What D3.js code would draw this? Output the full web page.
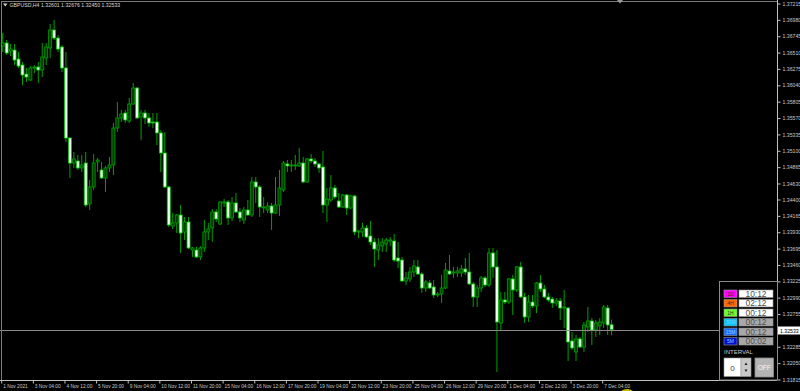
<!DOCTYPE html>
<html lang="en">
<head>
<meta charset="UTF-8">
<title>GBPUSD,H4</title>
<script src="https://d3js.org/d3.v7.min.js"></script>
<style>
  body { margin: 0; background: #000; overflow: hidden; }
  svg { display: block; }
  text { font-family: "Liberation Sans", Arial, sans-serif; }
</style>
</head>
<body>
<div id="chart"></div>
<script>
// H4 bars, 1 Nov 2021 20:00 -> 7 Dec 2021 12:00
var opens = [1.36604,1.36648,1.36533,1.36547,1.36418,1.36332,1.36202,1.36116,1.36289,1.36303,
  1.36260,1.36432,1.36576,1.36834,1.36719,1.36590,1.36289,1.35283,1.34924,1.34953,
  1.34853,1.34924,1.34336,1.34580,1.34939,1.34824,1.34709,1.34853,1.34896,1.35427,
  1.35571,1.35642,1.35528,1.35772,1.36001,1.35585,1.35642,1.35571,1.35513,1.35513,
  1.35356,1.35068,1.34580,1.34020,1.34063,1.34178,1.33934,1.34077,1.33675,1.33675,
  1.33575,1.33704,1.33934,1.33991,1.34221,1.34048,1.34350,1.34364,1.34135,1.34350,
  1.34221,1.34106,1.34249,1.34178,1.34652,1.34580,1.34278,1.34249,1.34307,1.34206,
  1.34321,1.34537,1.34910,1.34882,1.34882,1.34882,1.34924,1.34652,1.34982,1.34953,
  1.34910,1.34867,1.34321,1.34393,1.34565,1.34379,1.34293,1.34465,1.34278,1.34450,
  1.33934,1.33934,1.33991,1.33876,1.33790,1.33675,1.33732,1.33761,1.33804,1.33804,
  1.33560,1.33531,1.33230,1.33259,1.33359,1.33431,1.33330,1.33129,1.33201,1.33144,
  1.33029,1.33043,1.33129,1.33373,1.33345,1.33345,1.33345,1.33402,1.33359,1.33187,
  1.33000,1.33129,1.33273,1.33172,1.33632,1.33431,1.32627,1.32957,1.32928,1.33259,
  1.33101,1.33431,1.33000,1.32713,1.32928,1.32871,1.33201,1.33115,1.33000,1.32971,
  1.32914,1.32943,1.32842,1.32842,1.32368,1.32210,1.32397,1.32282,1.32569,1.32655,
  1.32526,1.32584,1.32627,1.32842,1.32601];
var highs = [1.36791,1.36691,1.36633,1.36633,1.36518,1.36375,1.36289,1.36317,1.36332,1.36375,
  1.36648,1.36648,1.36920,1.36978,1.36762,1.36619,1.36518,1.35297,1.35082,1.35039,
  1.35039,1.35082,1.34680,1.35054,1.34996,1.34939,1.34882,1.35011,1.35499,1.35801,
  1.35686,1.35686,1.35858,1.36073,1.36016,1.35686,1.35686,1.35642,1.35642,1.35642,
  1.35398,1.35370,1.34594,1.34206,1.34192,1.34321,1.34149,1.34149,1.33718,1.33718,
  1.33732,1.34106,1.34063,1.34264,1.34264,1.34379,1.34407,1.34393,1.34436,1.34494,
  1.34278,1.34293,1.34393,1.34723,1.34723,1.34608,1.34436,1.34364,1.34350,1.34723,
  1.34824,1.34953,1.34967,1.34967,1.35039,1.35140,1.35011,1.34996,1.35054,1.34996,
  1.34924,1.35097,1.34565,1.34752,1.34608,1.34494,1.34479,1.34479,1.34465,1.34465,
  1.33962,1.34063,1.34034,1.34091,1.33847,1.33847,1.33847,1.33847,1.33862,1.33905,
  1.33790,1.33575,1.33359,1.33431,1.33531,1.33531,1.33359,1.33244,1.33244,1.33244,
  1.33072,1.33316,1.33488,1.33603,1.33431,1.33431,1.33460,1.33560,1.33632,1.33216,
  1.33172,1.33302,1.33302,1.33704,1.33704,1.33675,1.33072,1.33072,1.33273,1.33316,
  1.33446,1.33503,1.33058,1.33029,1.33029,1.33216,1.33316,1.33172,1.33058,1.33000,
  1.32986,1.32986,1.33101,1.32857,1.32498,1.32454,1.32426,1.32641,1.32857,1.32698,
  1.32670,1.32698,1.32885,1.32885,1.32676];
var lows = [1.36518,1.36475,1.36461,1.36332,1.36289,1.36044,1.36088,1.36102,1.36217,1.36073,
  1.36159,1.36332,1.36432,1.36691,1.36518,1.36231,1.35226,1.34709,1.34853,1.34824,
  1.34795,1.34293,1.34249,1.34537,1.34795,1.34695,1.34508,1.34795,1.34752,1.35370,
  1.35513,1.35499,1.35499,1.35757,1.35556,1.35255,1.35484,1.35441,1.35427,1.35183,
  1.34795,1.34565,1.34005,1.33977,1.33919,1.33632,1.33819,1.33689,1.33575,1.33560,
  1.33531,1.33646,1.33819,1.33790,1.34077,1.34034,1.34293,1.34034,1.34091,1.34206,
  1.34077,1.34048,1.34163,1.34149,1.34350,1.34149,1.34206,1.34206,1.33962,1.34192,
  1.34163,1.34508,1.34795,1.34795,1.34824,1.34867,1.34637,1.34637,1.34924,1.34867,
  1.34782,1.34206,1.34077,1.34364,1.34407,1.34278,1.34278,1.34178,1.34264,1.33890,
  1.33847,1.33862,1.33847,1.33747,1.33431,1.33531,1.33646,1.33646,1.33732,1.33503,
  1.33416,1.33216,1.33172,1.33216,1.33287,1.33316,1.33058,1.33072,1.33115,1.32986,
  1.33000,1.32914,1.33115,1.33316,1.33273,1.33287,1.33287,1.33316,1.33172,1.32857,
  1.32857,1.33072,1.33144,1.33144,1.33273,1.31923,1.32526,1.32900,1.32900,1.32742,
  1.33072,1.32986,1.32627,1.32641,1.32842,1.32770,1.33072,1.32986,1.32928,1.32842,
  1.32871,1.32670,1.32555,1.32081,1.32239,1.32081,1.32268,1.32210,1.32498,1.32311,
  1.32426,1.32454,1.32555,1.32454,1.32450];
var closes = [1.36648,1.36504,1.36561,1.36403,1.36317,1.36188,1.36159,1.36289,1.36303,1.36260,
  1.36447,1.36590,1.36834,1.36719,1.36561,1.36289,1.35283,1.34924,1.34982,1.34853,
  1.34896,1.34321,1.34580,1.34924,1.34967,1.34709,1.34853,1.34896,1.35427,1.35571,
  1.35628,1.35542,1.35772,1.36001,1.35571,1.35642,1.35571,1.35499,1.35499,1.35356,
  1.35068,1.34580,1.34034,1.34063,1.34178,1.33919,1.34077,1.33704,1.33704,1.33575,
  1.33704,1.33934,1.33977,1.34221,1.34120,1.34364,1.34364,1.34135,1.34350,1.34221,
  1.34135,1.34249,1.34178,1.34652,1.34580,1.34293,1.34293,1.34307,1.34206,1.34321,
  1.34565,1.34924,1.34882,1.34896,1.34896,1.34924,1.34652,1.34982,1.34953,1.34910,
  1.34853,1.34321,1.34407,1.34565,1.34436,1.34293,1.34465,1.34278,1.34450,1.33934,
  1.33948,1.33991,1.33862,1.33790,1.33689,1.33747,1.33790,1.33819,1.33819,1.33531,
  1.33517,1.33230,1.33273,1.33359,1.33446,1.33330,1.33129,1.33216,1.33129,1.33029,
  1.33043,1.33129,1.33388,1.33330,1.33359,1.33373,1.33402,1.33359,1.33187,1.33000,
  1.33129,1.33273,1.33172,1.33632,1.33431,1.32641,1.32957,1.32928,1.33259,1.33101,
  1.33431,1.33000,1.32713,1.32928,1.32871,1.33201,1.33115,1.33000,1.32957,1.32914,
  1.32943,1.32842,1.32857,1.32354,1.32268,1.32397,1.32282,1.32598,1.32655,1.32526,
  1.32627,1.32641,1.32857,1.32598,1.32533];

var priceTicks = [1.37215,1.36980,1.36745,1.36510,1.36275,1.36040,1.35805,1.35570,1.35335,1.35100,
  1.34865,1.34630,1.34400,1.34165,1.33930,1.33695,1.33460,1.33225,1.32990,1.32755,
  1.32285,1.32050,1.31815];
var timeLabels = ["1 Nov 2021","3 Nov 04:00","4 Nov 12:00","5 Nov 20:00","9 Nov 04:00",
  "10 Nov 12:00","11 Nov 20:00","15 Nov 04:00","16 Nov 12:00","17 Nov 20:00",
  "19 Nov 04:00","22 Nov 12:00","23 Nov 20:00","25 Nov 04:00","26 Nov 12:00",
  "29 Nov 20:00","1 Dec 04:00","2 Dec 12:00","3 Dec 20:00","7 Dec 04:00"];

// timer panel
var tfNames = ["1D","4H","1H","30M","15M","5M"];
var tfLeft = ["10:12","02:12","00:12","00:12","00:12","00:02"];
var tfColors = ["#ff00ff","#ff6a00","#6cff2a","#00c8ff","#1a6cff","#0010d0"];

var width = 800, height = 391;
var plotRight = 777, plotBottom = 380;

// bar times (H4, weekdays only)
var times = [];
var t = new Date(2021, 10, 1, 20);
while (times.length < opens.length) {
  if (t.getDay() != 0 && t.getDay() != 6) times.push(new Date(t));
  t = new Date(t.getTime() + 4 * 3600 * 1000);
}
var bars = times.map(function(d, i) {
  return { time: d, o: opens[i], h: highs[i], l: lows[i], c: closes[i] };
});

var step = 3.954;
var x = d3.scaleBand()
  .domain(times)
  .range([0.72, 0.72 + step * times.length]);

var y = d3.scaleLinear()
  .domain([1.31815, 1.37215])
  .range([379.5, 3.5]);

var svg = d3.select("#chart")
  .append("svg")
  .attr("width", width)
  .attr("height", height);

svg.append("rect").attr("width", width).attr("height", height).attr("fill", "#000");

// candles
var candles = svg.append("g");
var cx = function(d) { return x(d.time) + x.bandwidth() / 2; };

candles.selectAll("line.wick")
  .data(bars)
  .enter()
  .append("line")
  .attr("class", "wick")
  .attr("x1", cx).attr("x2", cx)
  .attr("y1", function(d) { return y(d.h); })
  .attr("y2", function(d) { return y(d.l); })
  .attr("stroke", "#00a000")
  .attr("stroke-width", 1);

candles.selectAll("rect.body")
  .data(bars)
  .enter()
  .append("rect")
  .attr("class", "body")
  .attr("x", function(d) { return cx(d) - 1.5; })
  .attr("width", 3)
  .attr("y", function(d) { return y(Math.max(d.o, d.c)); })
  .attr("height", function(d) { return Math.max(0.8, Math.abs(y(d.o) - y(d.c))); })
  .attr("fill", function(d) { return d.c > d.o ? "#003a00" : "#effff0"; })
  .attr("stroke", function(d) { return d.c > d.o ? "#00a000" : "#00c800"; })
  .attr("stroke-width", 0.8);

// current price line
var last = bars[bars.length - 1];
var lastY = Math.round(y(last.c)) + 0.5;
svg.append("line")
  .attr("x1", 0).attr("x2", plotRight)
  .attr("y1", lastY).attr("y2", lastY)
  .attr("stroke", "#8a8a8a")
  .attr("stroke-width", 1);

// frame
svg.append("line").attr("x1", 1.5).attr("x2", 1.5).attr("y1", 1).attr("y2", plotBottom)
  .attr("stroke", "#7a7a7a");
svg.append("line").attr("x1", 1).attr("x2", plotRight).attr("y1", 1.5).attr("y2", 1.5)
  .attr("stroke", "#7a7a7a");
svg.append("line").attr("x1", plotRight + 0.5).attr("x2", plotRight + 0.5).attr("y1", 0).attr("y2", plotBottom)
  .attr("stroke", "#c0c0c0");
svg.append("line").attr("x1", 0).attr("x2", plotRight).attr("y1", plotBottom + 0.5).attr("y2", plotBottom + 0.5)
  .attr("stroke", "#c0c0c0");

// price axis
var yAxis = svg.append("g")
  .attr("transform", "translate(" + (plotRight + 0.5) + ",0)")
  .call(d3.axisRight(y).tickValues(priceTicks).tickSize(3).tickPadding(2)
    .tickFormat(d3.format(".5f")));
yAxis.select(".domain").remove();
yAxis.selectAll("line").attr("stroke", "#c0c0c0");
yAxis.selectAll("text")
  .attr("fill", "#c8c8c8")
  .attr("font-size", 5.2)
  .attr("font-family", "Liberation Sans, Arial, sans-serif");

// time axis
var xAxis = svg.append("g")
  .attr("transform", "translate(0," + (plotBottom + 0.5) + ")")
  .call(d3.axisBottom(x)
    .tickValues(times.filter(function(d, i) { return i % 8 == 0; }))
    .tickSize(3)
    .tickFormat(function(d, i) { return timeLabels[i]; }));
xAxis.select(".domain").remove();
xAxis.selectAll("line").attr("stroke", "#c0c0c0").attr("transform", "translate(-1,0)");
xAxis.selectAll("text")
  .attr("fill", "#c8c8c8")
  .attr("font-size", 4.8)
  .attr("font-family", "Liberation Sans, Arial, sans-serif")
  .attr("text-anchor", "start")
  .attr("x", 0.5)
  .attr("y", 3.6);

// current price label
svg.append("rect")
  .attr("x", plotRight + 1).attr("y", lastY - 4)
  .attr("width", 22).attr("height", 8)
  .attr("fill", "#ffffff");
svg.append("text")
  .attr("x", plotRight + 3).attr("y", lastY + 2)
  .attr("font-size", 5.2)
  .attr("fill", "#000")
  .text(d3.format(".5f")(last.c));

// title
svg.append("path").attr("d", "M3,3.5 L7.5,3.5 L5.25,6.5 Z").attr("fill", "#d0d0d0");
svg.append("text")
  .attr("x", 9.5).attr("y", 7.2)
  .attr("font-size", 5.2)
  .attr("fill", "#d8d8d8")
  .text("GBPUSD,H4  " + [last.o, last.h, last.l, last.c].map(d3.format(".5f")).join(" "));

// chart shift marker
svg.append("path").attr("d", "M617,0 L623,0 L620,3.5 Z").attr("fill", "#9a9a9a");
svg.append("ellipse").attr("cx", 627).attr("cy", 392).attr("rx", 6).attr("ry", 3)
  .attr("fill", "#c8b400");

// timer panel
var panel = svg.append("g");
panel.append("rect")
  .attr("x", 719.5).attr("y", 281.5).attr("width", 58).attr("height", 98.5)
  .attr("fill", "#000").attr("stroke", "#8a8a8a");

var rowY = d3.scaleBand().domain(tfNames).range([290, 345]).paddingInner(0.22);
var rows = panel.selectAll("g.row")
  .data(tfNames)
  .enter()
  .append("g")
  .attr("class", "row")
  .attr("transform", function(d) { return "translate(0," + rowY(d) + ")"; });
rows.append("rect")
  .attr("x", 724).attr("width", 13).attr("height", rowY.bandwidth())
  .attr("fill", function(d, i) { return tfColors[i]; })
  .attr("stroke", "#9a9a9a").attr("stroke-width", 0.6);
rows.append("text")
  .attr("x", 730.5).attr("y", rowY.bandwidth() / 2 + 1.8)
  .attr("text-anchor", "middle")
  .attr("font-size", 5)
  .attr("fill", function(d, i) { return i > 2 ? "#8fd0ff" : "#303030"; })
  .text(function(d) { return d; });
rows.append("rect")
  .attr("x", 739).attr("width", 34).attr("height", rowY.bandwidth())
  .attr("fill", function(d, i) { return i < 3 ? "#ffffff" : "#a8a8a8"; })
  .attr("stroke", "#9a9a9a").attr("stroke-width", 0.6);
rows.append("text")
  .attr("x", 756).attr("y", rowY.bandwidth() / 2 + 3)
  .attr("text-anchor", "middle")
  .attr("font-size", 8.4)
  .attr("fill", "#505050")
  .text(function(d, i) { return tfLeft[i]; });

panel.append("text")
  .attr("x", 724).attr("y", 354)
  .attr("font-size", 6)
  .attr("fill", "#c8c8c8")
  .text("INTERVAL");
panel.append("rect")
  .attr("x", 724).attr("y", 358).attr("width", 17).attr("height", 18.5)
  .attr("fill", "#ffffff").attr("stroke", "#9a9a9a").attr("stroke-width", 0.6);
panel.append("text")
  .attr("x", 732.5).attr("y", 370.5).attr("text-anchor", "middle")
  .attr("font-size", 8).attr("fill", "#404040").text("0");
panel.append("rect")
  .attr("x", 741).attr("y", 358).attr("width", 10).attr("height", 18.5)
  .attr("fill", "#c8c8c8").attr("stroke", "#9a9a9a").attr("stroke-width", 0.6);
panel.append("path").attr("d", "M744.5,365 L747.5,365 L746,362.5 Z").attr("fill", "#202020");
panel.append("path").attr("d", "M744.5,369.5 L747.5,369.5 L746,372 Z").attr("fill", "#202020");
panel.append("rect")
  .attr("x", 755).attr("y", 358).attr("width", 18.5).attr("height", 19)
  .attr("fill", "#b4b4b4").attr("stroke", "#8a8a8a").attr("stroke-width", 0.8);
panel.append("text")
  .attr("x", 764.25).attr("y", 369.5).attr("text-anchor", "middle")
  .attr("font-size", 6.5).attr("fill", "#f4f4f4").text("OFF");
</script>
</body>
</html>
